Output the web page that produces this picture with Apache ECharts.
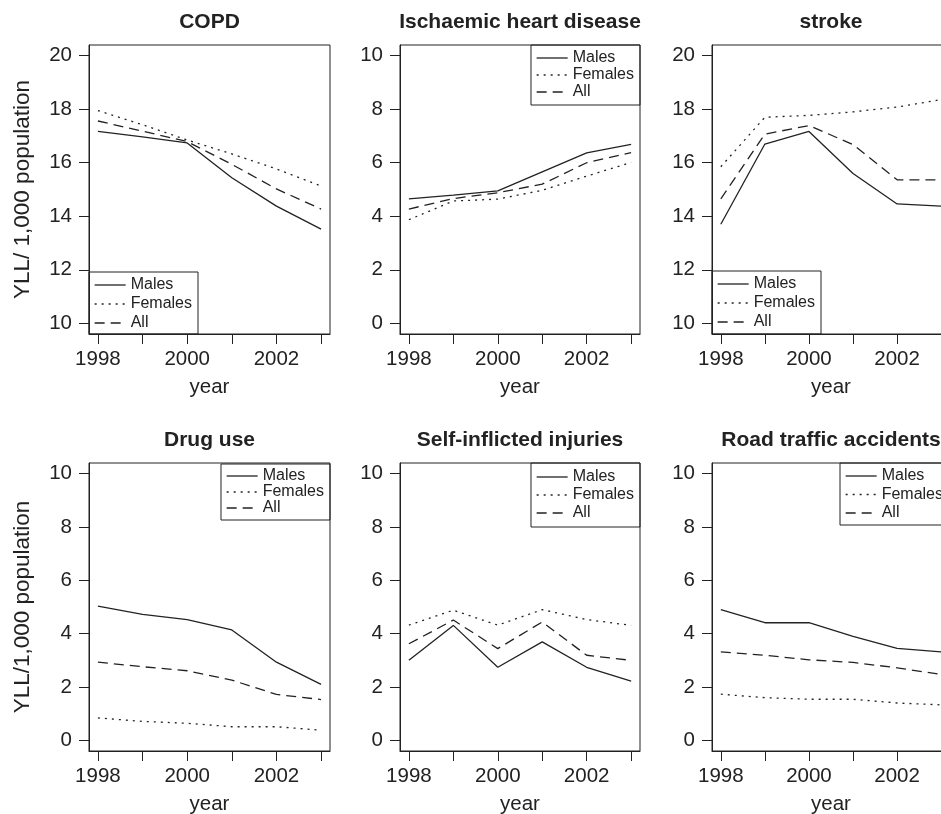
<!DOCTYPE html>
<html>
<head>
<meta charset="utf-8">
<title>YLL by cause</title>
<script src="https://cdn.jsdelivr.net/npm/echarts@6/dist/echarts.min.js"></script>
<style>
	html, body { margin: 0; padding: 0; background: #fff; }
	#chart { width: 941px; height: 814px; }
</style>
</head>
<body>
<div id="chart"></div>
<script>
var years = [1998, 1999, 2000, 2001, 2002, 2003];
var x_ticks = [1998, 1999, 2000, 2001, 2002, 2003];
var x_labels = [1998, 2000, 2002];
var y_ticks_high = [10, 12, 14, 16, 18, 20];
var y_ticks_low = [0, 2, 4, 6, 8, 10];
var sexes = ['Males', 'Females', 'All'];

var copd_males = [17.17, 16.97, 16.74, 15.44, 14.38, 13.52];
var copd_females = [17.95, 17.42, 16.85, 16.33, 15.77, 15.13];
var copd_all = [17.56, 17.18, 16.79, 15.94, 15.02, 14.27];

var ihd_males = [4.65, 4.79, 4.95, 5.66, 6.37, 6.69];
var ihd_females = [3.87, 4.57, 4.64, 4.97, 5.5, 6.01];
var ihd_all = [4.27, 4.66, 4.88, 5.2, 6.0, 6.38];

var stroke_males = [13.7, 16.7, 17.17, 15.6, 14.46, 14.38];
var stroke_females = [15.85, 17.7, 17.77, 17.9, 18.08, 18.36];
var stroke_all = [14.65, 17.07, 17.39, 16.68, 15.36, 15.36];

var drug_males = [5.03, 4.72, 4.53, 4.14, 2.93, 2.1];
var drug_females = [0.84, 0.71, 0.64, 0.51, 0.51, 0.38];
var drug_all = [2.93, 2.76, 2.61, 2.26, 1.72, 1.53];

var self_males = [3.0, 4.31, 2.74, 3.69, 2.74, 2.22];
var self_females = [4.32, 4.88, 4.32, 4.9, 4.53, 4.31];
var self_all = [3.62, 4.51, 3.44, 4.44, 3.19, 3.0];

var road_males = [4.9, 4.41, 4.41, 3.9, 3.45, 3.32];
var road_females = [1.73, 1.6, 1.54, 1.54, 1.4, 1.33];
var road_all = [3.32, 3.19, 3.02, 2.92, 2.72, 2.47];

var FONT = '"Liberation Sans", Arial, Helvetica, sans-serif';
var INK = '#222';
var line_types = ['solid', [2, 5], [10, 6]];

// layout of the six panels (pixels)
var panels = [
	{ title: 'COPD', data: [copd_males, copd_females, copd_all], yticks: y_ticks_high,
	  ylab: 'YLL/ 1,000 population', left: 89, top: 45, width: 241, height: 289, title_top: 12,
	  legend: { left: 89, top: 272, gap: 3, lh: 16, pad: [5, 6, 3, 5] } },
	{ title: 'Ischaemic heart disease', data: [ihd_males, ihd_females, ihd_all], yticks: y_ticks_low,
	  ylab: null, left: 400, top: 45, width: 240, height: 289, title_top: 12,
	  legend: { right: 301, top: 45, gap: 1, lh: 16, pad: [5, 6, 5, 5] } },
	{ title: 'stroke', data: [stroke_males, stroke_females, stroke_all], yticks: y_ticks_high,
	  ylab: null, left: 712, top: 45, width: 238, height: 289, title_top: 12,
	  legend: { left: 712, top: 271, gap: 3, lh: 16, pad: [5, 6, 4, 5] } },
	{ title: 'Drug use', data: [drug_males, drug_females, drug_all], yticks: y_ticks_low,
	  ylab: 'YLL/1,000 population', left: 89, top: 463, width: 241, height: 288, title_top: 430,
	  legend: { right: 611, top: 464, gap: 0, lh: 15, pad: [4, 6, 4, 5] } },
	{ title: 'Self-inflicted injuries', data: [self_males, self_females, self_all], yticks: y_ticks_low,
	  ylab: null, left: 400, top: 463, width: 240, height: 288, title_top: 430,
	  legend: { right: 301, top: 463, gap: 2, lh: 16, pad: [6, 6, 6, 5] } },
	{ title: 'Road traffic accidents', data: [road_males, road_females, road_all], yticks: y_ticks_low,
	  ylab: null, left: 712, top: 463, width: 238, height: 288, title_top: 430,
	  legend: { left: 840, top: 463, gap: 2.5, lh: 16, pad: [5, 6, 4, 5] } }
];

function text_style(size, extra) {
	var s = { fontFamily: FONT, fontSize: size, color: INK };
	for (var k in extra) s[k] = extra[k];
	return s;
}

function cal_option() {
	var grid = [], xAxis = [], yAxis = [], series = [], title = [], legend = [];
	var x_pad = 0.04 * (x_ticks[x_ticks.length - 1] - x_ticks[0]);

	panels.forEach(function (p, i) {
		var y_pad = 0.04 * (p.yticks[p.yticks.length - 1] - p.yticks[0]);

		grid.push({
			left: p.left, top: p.top, width: p.width, height: p.height,
			show: true, borderColor: INK, borderWidth: 1, backgroundColor: 'transparent',
			containLabel: false, outerBoundsMode: 'none'
		});

		title.push({
			text: p.title, left: p.left + p.width / 2, top: p.title_top,
			textAlign: 'center', padding: 0,
			textStyle: text_style(21, { fontWeight: 'bold' })
		});

		xAxis.push({
			type: 'value', gridIndex: i,
			min: x_ticks[0] - x_pad, max: x_ticks[x_ticks.length - 1] + x_pad,
			name: 'year', nameLocation: 'middle', nameGap: 43,
			nameTextStyle: text_style(20.5),
			axisLine: { show: true, onZero: false, lineStyle: { color: INK, width: 1 } },
			axisTick: { show: true, length: 10, customValues: x_ticks, lineStyle: { color: INK, width: 1 } },
			axisLabel: {
				customValues: x_labels, margin: 15, fontFamily: FONT, fontSize: 20.5, color: INK,
				formatter: function (v) { return String(v); }
			},
			splitLine: { show: false }
		});

		yAxis.push({
			type: 'value', gridIndex: i,
			min: p.yticks[0] - y_pad, max: p.yticks[p.yticks.length - 1] + y_pad,
			name: p.ylab || '', nameLocation: 'middle', nameGap: 55,
			nameTextStyle: text_style(22.5),
			axisLine: { show: true, onZero: false, lineStyle: { color: INK, width: 1 } },
			axisTick: { show: true, length: 10, customValues: p.yticks, lineStyle: { color: INK, width: 1 } },
			axisLabel: {
				customValues: p.yticks, margin: 17, fontFamily: FONT, fontSize: 20.5, color: INK,
				formatter: function (v) { return String(v); }
			},
			splitLine: { show: false }
		});

		p.data.forEach(function (vals, k) {
			series.push({
				name: sexes[k], type: 'line', xAxisIndex: i, yAxisIndex: i,
				data: years.map(function (yr, j) { return [yr, vals[j]]; }),
				symbol: 'none', silent: true,
				lineStyle: { color: INK, width: 1.3, type: line_types[k] },
				itemStyle: { color: INK }
			});
		});

		var lg = p.legend;
		var leg = {
			data: sexes, orient: 'vertical', top: lg.top,
			itemWidth: 31, itemHeight: 14, itemGap: lg.gap, padding: lg.pad,
			borderColor: INK, borderWidth: 1, borderRadius: 0, backgroundColor: 'transparent',
			selectedMode: false,
			textStyle: text_style(16, { lineHeight: lg.lh }),
			lineStyle: { width: 1.3 },
			itemStyle: { opacity: 0, borderWidth: 0 }
		};
		if (lg.left != null) leg.left = lg.left; else leg.right = lg.right;
		legend.push(leg);
	});

	return {
		backgroundColor: '#fff',
		animation: false,
		title: title,
		legend: legend,
		grid: grid,
		xAxis: xAxis,
		yAxis: yAxis,
		series: series
	};
}

function draw_charts() {
	var my_chart = echarts.init(document.getElementById('chart'), null, { renderer: 'canvas' });
	my_chart.setOption(cal_option());
	window.onresize = function () {
		my_chart.resize();
	};
}

draw_charts();
</script>
</body>
</html>
